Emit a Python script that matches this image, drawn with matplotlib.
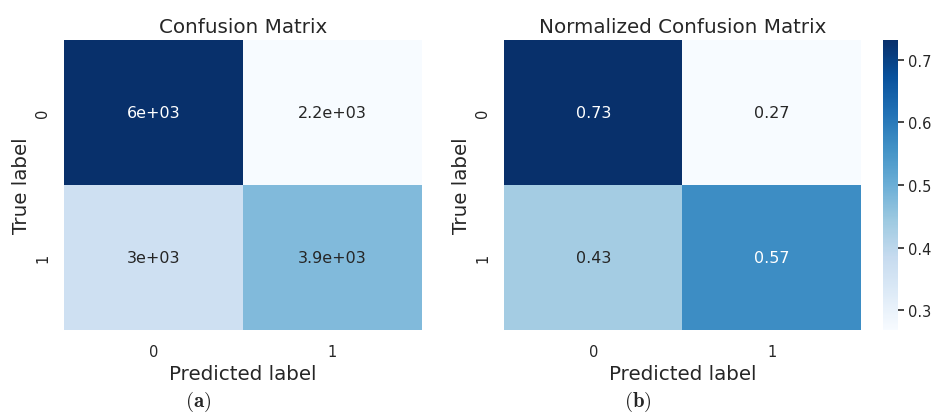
import numpy as np
import matplotlib
matplotlib.use('Agg')
import matplotlib.pyplot as plt
import seaborn as sns

sns.set_theme(style='white')
plt.rcParams['font.family'] = ['DejaVu Sans']
plt.rcParams['mathtext.fontset'] = 'cm'

# confusion matrix counts (rows = true label, cols = predicted label)
labels = ['0', '1']
counts = np.array([[6000, 2200],
                   [3000, 3900]])
norm = counts / counts.sum(axis=1, keepdims=True)

fig = plt.figure(figsize=(9.34, 4.14), dpi=100)
ax1 = fig.add_axes([0.0685, 0.2005, 0.3833, 0.7005])
ax2 = fig.add_axes([0.5396, 0.2005, 0.3822, 0.7005])
cax = fig.add_axes([0.9454, 0.2005, 0.0161, 0.7005])

sns.heatmap(counts, annot=True, cmap='Blues', cbar=False, ax=ax1,
            xticklabels=labels, yticklabels=labels, annot_kws={'size': 11.5})
sns.heatmap(norm, annot=True, cmap='Blues', cbar_ax=cax, ax=ax2,
            xticklabels=labels, yticklabels=labels, annot_kws={'size': 11.5})

for ax, title in [(ax1, 'Confusion Matrix'), (ax2, 'Normalized Confusion Matrix')]:
    ax.set_title(title, fontsize=14.3, pad=6)
    ax.set_xlabel('Predicted label', fontsize=14.3, labelpad=4)
    ax.set_ylabel('True label', fontsize=14.3, labelpad=3)
    ax.tick_params(labelsize=10.5, length=0, pad=10)
    ax.tick_params(axis='y', rotation=90)
    for t in ax.get_yticklabels():
        t.set_va('center')

cax.tick_params(labelsize=10.5, length=4, width=1.2, color='#262626', direction='out', right=True, pad=3)
cax.set_yticks([0.3, 0.4, 0.5, 0.6, 0.7])

fig.text(0.2125, 0.016, r'$(\mathbf{a})$', ha='center', fontsize=15)
fig.text(0.6825, 0.016, r'$(\mathbf{b})$', ha='center', fontsize=15)

plt.savefig('out.png', dpi=100)
